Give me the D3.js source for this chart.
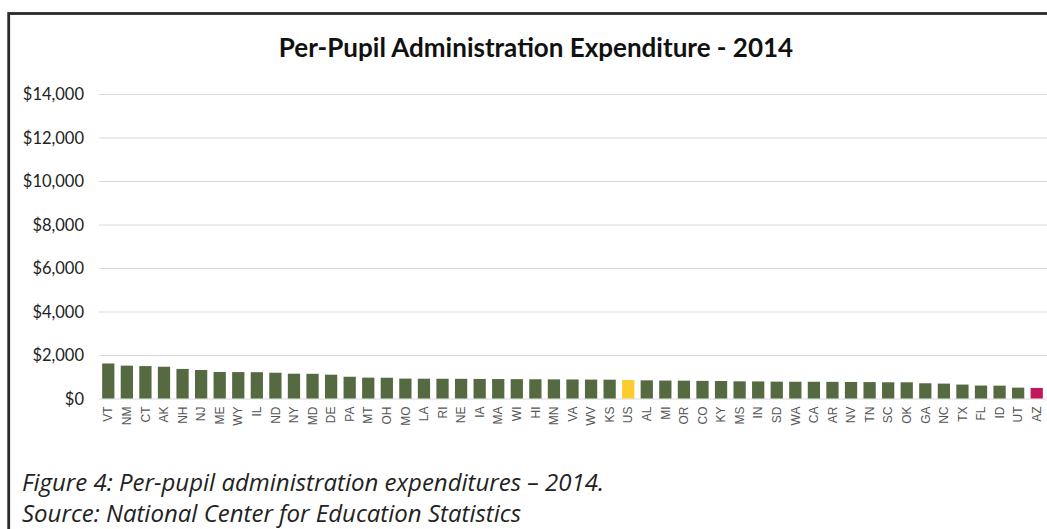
<!DOCTYPE html>
<html>
<head>
<meta charset="utf-8">
<script src="https://d3js.org/d3.v7.min.js"></script>
<style>
  body { margin: 0; background: #fff; }
  svg { display: block; }
  .title { font-family: Lato, "Open Sans", sans-serif; font-weight: bold; font-size: 26px; fill: #111; }
  .ytick text { font-family: Lato, "Open Sans", sans-serif; font-size: 16.5px; fill: #222; }
  .xtick text { font-family: "Liberation Sans", Arial, sans-serif; font-size: 12px; fill: #555; }
  .caption { font-family: "Open Sans", Lato, sans-serif; font-style: italic; font-size: 24px; fill: #222; }
</style>
</head>
<body>
<svg id="chart" width="1047" height="529"></svg>
<script>
// states sorted by per-pupil administration spending, 2014
let states = ["VT","NM","CT","AK","NH","NJ","ME","WY","IL","ND","NY","MD","DE","PA","MT","OH","MO",
              "LA","RI","NE","IA","MA","WI","HI","MN","VA","WV","KS","US","AL","MI","OR","CO","KY",
              "MS","IN","SD","WA","CA","AR","NV","TN","SC","OK","GA","NC","TX","FL","ID","UT","AZ"]
let spending = [1610,1510,1490,1460,1360,1310,1220,1215,1210,1185,1140,1135,1095,1000,960,955,915,
                910,908,905,900,895,890,885,880,875,870,865,850,835,825,820,810,805,
                790,785,775,770,770,765,760,755,745,745,700,685,640,595,590,500,485]
let yTicks = [0,2000,4000,6000,8000,10000,12000,14000]

let svg = d3.select("#chart")

// frame
svg.append("rect")
    .attr("x", 8.7).attr("y", 13.5)
    .attr("width", 1100).attr("height", 600)
    .attr("fill", "none")
    .attr("stroke", "#2b2b2b")
    .attr("stroke-width", 2.8)

svg.append("text")
    .attr("class", "title")
    .attr("x", 536).attr("y", 57)
    .attr("text-anchor", "middle")
    .text("Per-Pupil Administration Expenditure - 2014")

let x = d3.scaleBand()
    .domain(states)
    .range([99, 1046])
    .paddingInner(0.34)
    .paddingOuter(0.17)

let y = d3.scaleLinear()
    .domain([0, 14000])
    .range([398.5, 94])

// gridlines + y labels
let yAxis = svg.append("g")
    .attr("class", "ytick")
    .attr("transform", "translate(99,0)")
    .call(d3.axisLeft(y).tickValues(yTicks).tickSize(-1000).tickPadding(15)
            .tickFormat(d => "$" + d3.format(",")(d)))
yAxis.select(".domain").remove()
yAxis.selectAll("line").attr("stroke", "#d9d9d9").attr("stroke-width", 1.2)
yAxis.selectAll("text").attr("dy", "0.35em")

// bars
let data = states.map((s, i) => ({state: s, value: spending[i]}))

svg.append("g").selectAll("rect")
    .data(data)
    .enter().append("rect")
    .attr("x", d => x(d.state))
    .attr("width", x.bandwidth())
    .attr("y", d => y(d.value))
    .attr("height", d => y(0) - y(d.value))
    .attr("fill", d => d.state === "US" ? "#fecb2f" : (d.state === "AZ" ? "#c0185a" : "#556a41"))

// x labels
let xAxis = svg.append("g")
    .attr("class", "xtick")
    .attr("transform", "translate(0,398.5)")
    .call(d3.axisBottom(x).tickSize(0).tickPadding(0))
xAxis.select(".domain").remove()
xAxis.selectAll("text")
    .attr("transform", "rotate(-90)")
    .attr("text-anchor", "end")
    .attr("x", -8)
    .attr("y", 0)
    .attr("dy", "0.35em")

// caption
svg.append("text").attr("class", "caption")
    .attr("x", 22).attr("y", 491)
    .text("Figure 4: Per-pupil administration expenditures \u2013 2014.")
svg.append("text").attr("class", "caption")
    .attr("x", 22).attr("y", 522)
    .text("Source: National Center for Education Statistics")
</script>
</body>
</html>
